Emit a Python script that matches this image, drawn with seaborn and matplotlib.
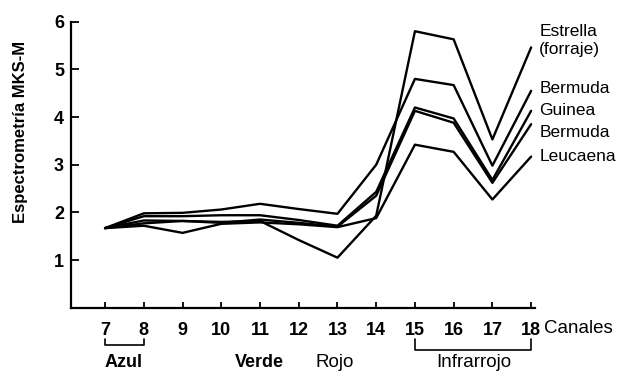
import numpy as np
import pandas as pd
import matplotlib
matplotlib.use("Agg")
import matplotlib.pyplot as plt
import seaborn as sns

sns.set_theme(style="ticks")
plt.rcParams["font.family"] = ["Liberation Sans", "DejaVu Sans"]
plt.rcParams["text.color"] = "black"
plt.rcParams["axes.labelcolor"] = "black"

# channels (Canales) and spectrometry readings per cover type
canales = [7, 8, 9, 10, 11, 12, 13, 14, 15, 16, 17, 18]
estrella = [1.67, 1.83, 1.82, 1.80, 1.82, 1.42, 1.05, 1.93, 5.80, 5.63, 3.53, 5.46]
bermuda_a = [1.67, 1.98, 1.99, 2.06, 2.18, 2.07, 1.97, 3.00, 4.80, 4.67, 2.98, 4.55]
guinea = [1.67, 1.92, 1.92, 1.94, 1.94, 1.84, 1.72, 2.43, 4.20, 3.97, 2.68, 4.13]
bermuda_b = [1.67, 1.77, 1.82, 1.78, 1.85, 1.78, 1.70, 2.35, 4.13, 3.88, 2.62, 3.85]
leucaena = [1.67, 1.72, 1.57, 1.76, 1.79, 1.75, 1.69, 1.88, 3.42, 3.27, 2.27, 3.17]

series = {
    "Estrella": estrella,
    "Bermuda A": bermuda_a,
    "Guinea": guinea,
    "Bermuda B": bermuda_b,
    "Leucaena": leucaena,
}
etiquetas = ["Estrella\n(forraje)", "Bermuda", "Guinea", "Bermuda", "Leucaena"]
etiqueta_y = [5.60, 4.59, 4.13, 3.67, 3.18]

df = pd.DataFrame(
    [(k, c, v) for k, vals in series.items() for c, v in zip(canales, vals)],
    columns=["serie", "canal", "valor"],
)

fig = plt.figure(figsize=(6.25, 3.76), dpi=100)
ax = fig.add_axes([0.1136, 0.1816, 0.7424, 0.7607])

sns.lineplot(data=df, x="canal", y="valor", hue="serie",
             palette=["black"] * 5, legend=False, linewidth=1.7, ax=ax)

ax.set_xlim(6.12, 18.1)
ax.set_ylim(0, 6)
ax.set_xticks(canales)
ax.set_yticks([1, 2, 3, 4, 5, 6])
ax.set_xlabel("")
ax.set_ylabel("Espectrometría MKS-M", fontsize=12, fontweight="bold",
              color="black")
ax.yaxis.set_label_coords(-0.093, 0.614)

sns.despine(ax=ax)
for s in ["left", "bottom"]:
    ax.spines[s].set_linewidth(1.6)
    ax.spines[s].set_color("black")
ax.tick_params(axis="both", direction="in", colors="black", width=1.3,
               labelsize=13)
ax.tick_params(axis="x", length=4, pad=10)
ax.tick_params(axis="y", length=6, pad=5)
for t in ax.get_xticklabels() + ax.get_yticklabels():
    t.set_fontweight("bold")

# series labels at the right end
for lab, y in zip(etiquetas, etiqueta_y):
    ax.text(18.21, y, lab, fontsize=12.5, va="center", ha="left",
            linespacing=1.25, clip_on=False)

# channel group labels and brackets below the axis
trans = ax.get_xaxis_transform()
ax.text(18.32, -0.071, "Canales", transform=trans, fontsize=13.5,
        va="center", ha="left")
ax.plot([7, 7, 8, 8], [-0.109, -0.130, -0.130, -0.109], transform=trans,
        color="black", lw=1.2, clip_on=False)
ax.plot([15, 15, 18, 18], [-0.111, -0.148, -0.148, -0.111], transform=trans,
        color="black", lw=1.2, clip_on=False)
ax.text(7.47, -0.193, "Azul", transform=trans, fontsize=13, fontweight="bold",
        va="center", ha="center")
ax.text(10.99, -0.193, "Verde", transform=trans, fontsize=13, fontweight="bold",
        va="center", ha="center")
ax.text(12.94, -0.193, "Rojo", transform=trans, fontsize=13.5,
        va="center", ha="center")
ax.text(16.52, -0.193, "Infrarrojo", transform=trans, fontsize=13.5,
        va="center", ha="center")

fig.savefig("out.png", dpi=100, facecolor="white")
